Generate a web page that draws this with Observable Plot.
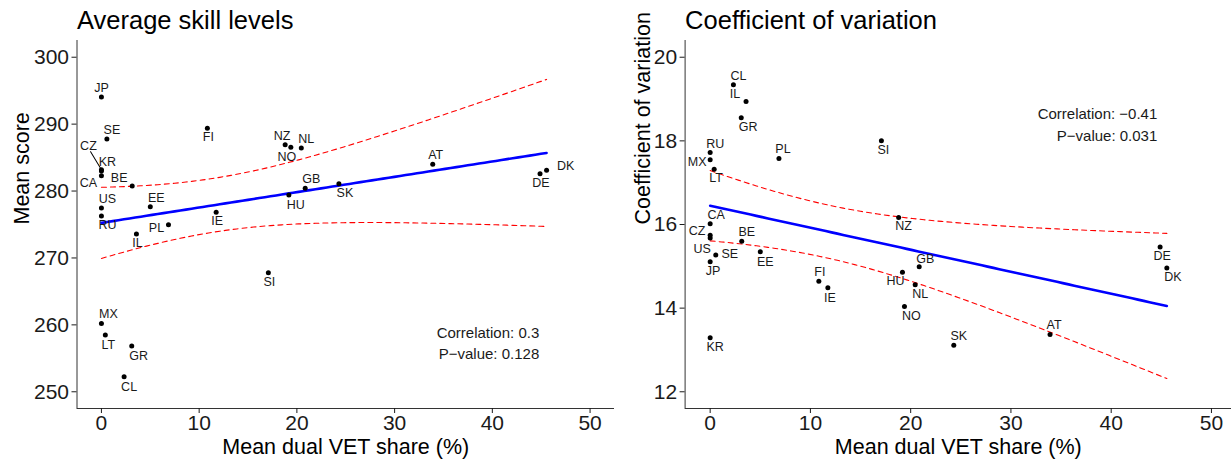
<!DOCTYPE html>
<html>
<head>
<meta charset="utf-8">
<script src="https://cdn.jsdelivr.net/npm/d3@7"></script>
<script src="https://cdn.jsdelivr.net/npm/@observablehq/plot@0.6"></script>
<style>
  html, body { margin: 0; padding: 0; background: #fff; overflow: hidden; }
  #chart { display: flex; width: 1231px; height: 460px; }
  #chart svg { display: block; }
</style>
</head>
<body>
<div id="chart"></div>
<script>
// Country codes and their values
const countries = ["JP","SE","CZ","KR","CA","BE","US","RU","EE","PL","IL","IE","FI","NZ","NO","NL","GB","HU","SK","SI","MX","LT","GR","CL","AT","DE","DK"];
const dualVetShare = [0, 0.56, 0, 0, 0, 3.15, 0, 0, 5.0, 6.86, 3.58, 11.74, 10.84, 18.8, 19.38, 20.45, 20.85, 19.18, 24.3, 17.08, 0, 0.4, 3.1, 2.32, 33.9, 44.88, 45.55];
const meanScore = [294.05, 287.77, 283.2, 283.0, 282.29, 280.75, 277.46, 276.26, 277.65, 274.96, 273.57, 276.82, 289.37, 286.92, 286.53, 286.43, 280.4, 279.4, 281.09, 267.79, 260.22, 258.48, 256.83, 252.24, 283.99, 282.59, 283.09];
const coefVariation = [15.11, 15.27, 15.74, 13.29, 16.02, 15.6, 15.68, 17.72, 15.35, 17.58, 18.94, 14.49, 14.64, 16.17, 14.04, 14.56, 14.99, 14.86, 13.11, 18.0, 17.55, 17.32, 18.55, 19.34, 13.37, 15.46, 14.96];

// Tick labels
const xTicks = [0, 10, 20, 30, 40, 50];
const scoreTicks = [250, 260, 270, 280, 290, 300];
const cvTicks = [12, 14, 16, 18, 20];

// Reported statistics
const scoreStats = ["Correlation: 0.3", "P\u2212value: 0.128"];
const cvStats = ["Correlation: \u22120.41", "P\u2212value: 0.031"];

// Label placement (pixel offsets of each country code from its dot)
const scoreNudge = {
  JP:[0,-9], SE:[5,-9], CZ:[-13,-24], KR:[6,-9], CA:[-13,7], BE:[-13,-8], US:[6,-9], RU:[6,9],
  EE:[6,-9], PL:[-12,3], IL:[1,9], IE:[1,9], FI:[1,9], NZ:[-3,-9], NO:[-4,10], NL:[5,-9],
  GB:[6,-9], HU:[7,10], SK:[6,9], SI:[1,9], MX:[7,-9], LT:[3,10], GR:[7,10], CL:[5,10],
  AT:[3,-9], DE:[1,9], DK:[19,-4]
};
const cvNudge = {
  CL:[5,-9], IL:[-11,-8], GR:[7,9], RU:[5,-9], MX:[-13,2], LT:[2,9], PL:[4,-9], SI:[2,9],
  NZ:[5,9], CA:[6,-9], CZ:[-13,-4], US:[-8,11], SE:[14,-1], JP:[3,9], BE:[5,-9], EE:[5,10],
  FI:[1,-9], IE:[2,10], HU:[-7,9], KR:[5,9], NO:[7,10], GB:[6,-8], NL:[5,9], SK:[5,-9],
  AT:[4,-9], DE:[2,9], DK:[6,9]
};

const FONT = "'Liberation Sans', Arial, Helvetica, sans-serif";
const INK = "#1a1a1a";

// Ordinary least squares fit with a 95% confidence band for the mean
function linearFit(xs, ys) {
  const n = xs.length;
  const mx = d3.mean(xs), my = d3.mean(ys);
  const sxx = d3.sum(xs, x => (x - mx) ** 2);
  const sxy = d3.sum(xs.map((x, i) => (x - mx) * (ys[i] - my)));
  const slope = sxy / sxx;
  const intercept = my - slope * mx;
  const rss = d3.sum(xs.map((x, i) => (ys[i] - intercept - slope * x) ** 2));
  const s = Math.sqrt(rss / (n - 2));
  const t = 2.0595; // two-sided 95% t quantile, n - 2 = 25 degrees of freedom
  const [x0, x1] = d3.extent(xs);
  return d3.range(80).map(k => {
    const x = x0 + (x1 - x0) * k / 79;
    const fit = intercept + slope * x;
    const se = s * Math.sqrt(1 / n + (x - mx) ** 2 / sxx);
    return {x, fit, lo: fit - t * se, hi: fit + t * se};
  });
}

function panel({title, yLabel, ys, yDomain, yTicks, xDomain, width, marginLeft, marginRight,
                yLabelOffset, nudge, stats, statsX, statsY, leader}) {
  const idx = d3.range(countries.length);
  const band = linearFit(dualVetShare, ys);
  const labelMarks = idx.map(i => {
    const [dx, dy] = nudge[countries[i]];
    return Plot.text([i], {
      x: j => dualVetShare[j], y: j => ys[j], text: j => countries[j],
      dx, dy, fontSize: 12.5, fill: INK
    });
  });
  const marks = [
    Plot.ruleX([xDomain[0]], {stroke: "#333", strokeWidth: 1}),
    Plot.ruleY([yDomain[0]], {stroke: "#333", strokeWidth: 1}),
    Plot.axisX({ticks: xTicks, tickSize: 5, tickPadding: 2, fontSize: 21, label: null, color: INK, tickFormat: d => d}),
    Plot.axisY({ticks: yTicks, tickSize: 5, tickPadding: 3, fontSize: 21, label: null, color: INK, tickFormat: d => d}),
    Plot.line(band, {x: "x", y: "hi", stroke: "#ff0000", strokeWidth: 1.1, strokeDasharray: "5,4"}),
    Plot.line(band, {x: "x", y: "lo", stroke: "#ff0000", strokeWidth: 1.1, strokeDasharray: "5,4"}),
    Plot.line(band, {x: "x", y: "fit", stroke: "#0000ff", strokeWidth: 2.6}),
    Plot.dot(idx, {x: i => dualVetShare[i], y: i => ys[i], r: 2.5, fill: "#000", stroke: null}),
    ...labelMarks,
    Plot.text(stats, {x: statsX, y: (d, i) => statsY[i], text: d => d, textAnchor: "end", fontSize: 15, fill: INK}),
    Plot.text([title], {frameAnchor: "top-left", textAnchor: "start", lineAnchor: "bottom", dy: -12, text: d => d, fontSize: 25.5, fill: "#000"}),
    Plot.text(["Mean dual VET share (%)"], {frameAnchor: "bottom", dy: 45, text: d => d, fontSize: 21.5, fill: "#000"}),
    Plot.text([yLabel], {frameAnchor: "left", rotate: -90, dx: -yLabelOffset, text: d => d, fontSize: 21.5, fill: "#000"})
  ];
  if (leader) {
    const i = countries.indexOf(leader.code);
    marks.push(Plot.vector([i], {
      x: j => dualVetShare[j], y: j => ys[j], length: leader.length, rotate: leader.rotate,
      anchor: "start", stroke: "#000", strokeWidth: 1,
      shape: {draw(context, l) { context.moveTo(0, -2); context.lineTo(0, -l); }}
    }));
  }
  return Plot.plot({
    width, height: 460,
    marginTop: 40, marginBottom: 52, marginLeft, marginRight,
    style: {fontFamily: FONT, background: "#fff", overflow: "visible"},
    x: {domain: xDomain},
    y: {domain: yDomain},
    marks
  });
}

const chart = document.getElementById("chart");
chart.append(panel({
  title: "Average skill levels",
  yLabel: "Mean score",
  ys: meanScore,
  yDomain: [247.5, 302.5],
  yTicks: scoreTicks,
  xDomain: [-2.5, 52.5],
  width: 640, marginLeft: 76.5, marginRight: 26,
  yLabelOffset: 54.5,
  nudge: scoreNudge,
  stats: scoreStats, statsX: 44.8, statsY: [258.8, 255.6],
  leader: {code: "CZ", length: 21, rotate: -31}
}));
chart.append(panel({
  title: "Coefficient of variation",
  yLabel: "Coefficient of variation",
  ys: coefVariation,
  yDomain: [11.6, 20.4],
  yTicks: cvTicks,
  xDomain: [-2.5, 52.0],
  width: 591, marginLeft: 44.6, marginRight: 0,
  yLabelOffset: 41.6,
  nudge: cvNudge,
  stats: cvStats, statsX: 44.6, statsY: [18.63, 18.11]
}));
</script>
</body>
</html>
